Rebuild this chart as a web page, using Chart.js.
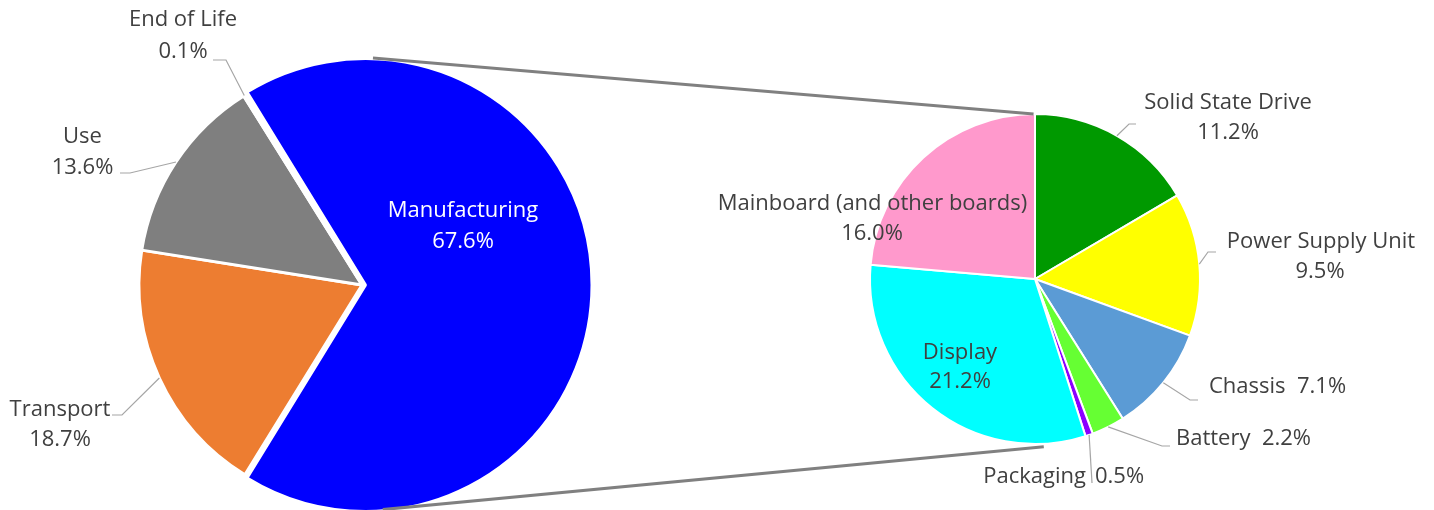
<!DOCTYPE html>
<html><head><meta charset="utf-8">
<script src="https://cdn.jsdelivr.net/npm/chart.js@4.4.1/dist/chart.umd.min.js"></script>
<style>
html,body{margin:0;padding:0;background:#fff;}
#wrap{position:relative;width:1434px;height:510px;overflow:hidden;background:#fff;}
#wrap canvas{position:absolute;left:0;top:0;}
</style></head><body>
<div id="wrap">
<canvas id="mainPie" width="1434" height="510"></canvas>
<canvas id="subPie" width="1434" height="510"></canvas>
</div>
<script>
// ---------- data ----------
const mainCategories = ['Manufacturing', 'Transport', 'Use', 'End of Life'];
const mainValues = [67.6, 18.7, 13.6, 0.1];
const mainColors = ['#0000FF', '#ED7D31', '#7F7F7F', '#FFC000'];

const subCategories = ['Solid State Drive', 'Power Supply Unit', 'Chassis', 'Battery', 'Packaging', 'Display', 'Mainboard (and other boards)'];
const subValues = [11.2, 9.5, 7.1, 2.2, 0.5, 21.2, 16.0];
const subColors = ['#009900', '#FFFF00', '#5B9BD5', '#66FF33', '#8B00FF', '#00FFFF', '#FF99CC'];

// ---------- styles / label layout (relative to pie centre) ----------
const FONT = '22px "Open Sans", sans-serif';
const TEXT = '#404040';
const LEADER = '#A6A6A6';
const pct = v => v.toFixed(1) + '%';

const mainLayout = [
  {color: '#FFFFFF', items: [{k: 'name', dx: 101, dy: -74}, {k: 'value', dx: 101, dy: -43}]},
  {items: [{k: 'name', dx: -302, dy: 125}, {k: 'value', dx: -302, dy: 155}], leader: [[-240, 130], [-250, 130]]},
  {items: [{k: 'name', dx: -279.5, dy: -148}, {k: 'value', dx: -279.5, dy: -117}], leader: [[-232, -112], [-242, -112]]},
  {items: [{k: 'name', dx: -179, dy: -265}, {k: 'value', dx: -179, dy: -233}], leader: [[-136, -225], [-149, -225]]}
];
const subLayout = [
  {items: [{k: 'name', dx: 193, dy: -176}, {k: 'value', dx: 193, dy: -146}], leader: [[94, -155], [101, -155]]},
  {items: [{k: 'name', dx: 286, dy: -37}, {k: 'value', dx: 285, dy: -7}], leader: [[173, -27], [181, -27]]},
  {items: [{k: 'both', dx: 174, dy: 108, align: 'left'}], leader: [[155, 121], [163, 121]]},
  {items: [{k: 'both', dx: 141, dy: 160, align: 'left'}], leader: [[127, 167], [135, 167]]},
  {items: [{k: 'name', dx: 51, dy: 198, align: 'right'}, {k: 'value', dx: 60, dy: 198, align: 'left'}], leader: [[57, 204]]},
  {items: [{k: 'name', dx: -75, dy: 74}, {k: 'value', dx: -75, dy: 103}]},
  {items: [{k: 'name', dx: -162.5, dy: -75}, {k: 'value', dx: -163, dy: -45}]}
];
const connectorLayout = [
  {srcAngle: -89, srcExtra: 4, dstAngle: -90.5, dstExtra: 0},
  {srcAngle: 86.5, srcExtra: 2, dstAngle: 87, dstExtra: 3}
];

function makeLabelPlugin(id, layout) {
  return {
    id,
    afterDatasetsDraw(chart) {
      const ctx = chart.ctx;
      const meta = chart.getDatasetMeta(0);
      const cats = chart.data.labels;
      const vals = chart.data.datasets[0].data;
      ctx.save();
      meta.data.forEach((arc, i) => {
        const L = layout[i];
        if (!L) return;
        const cx = arc.x, cy = arc.y;
        if (L.leader) {
          const mid = (arc.startAngle + arc.endAngle) / 2;
          const r = arc.outerRadius;
          ctx.beginPath();
          ctx.moveTo(cx + Math.cos(mid) * r, cy + Math.sin(mid) * r);
          L.leader.forEach(p => ctx.lineTo(cx + p[0], cy + p[1]));
          ctx.strokeStyle = LEADER;
          ctx.lineWidth = 1.2;
          ctx.stroke();
        }
        ctx.font = FONT;
        ctx.fillStyle = L.color || TEXT;
        ctx.textBaseline = 'middle';
        L.items.forEach(it => {
          const s = it.k === 'name' ? cats[i] : it.k === 'value' ? pct(vals[i]) : cats[i] + '  ' + pct(vals[i]);
          ctx.textAlign = it.align || 'center';
          ctx.fillText(s, cx + it.dx, cy + it.dy);
        });
      });
      ctx.restore();
    }
  };
}

const mainSum = mainValues.reduce((a, b) => a + b, 0);
const mainChart = new Chart(document.getElementById('mainPie'), {
  type: 'pie',
  data: {
    labels: mainCategories,
    datasets: [{
      data: mainValues,
      backgroundColor: mainColors,
      borderColor: '#FFFFFF',
      borderWidth: 3,
      offset: [14, 0, 0, 0],
      clip: false
    }]
  },
  options: {
    responsive: false,
    animation: false,
    events: [],
    rotation: 90 - 180 * mainValues[0] / mainSum,
    radius: 223,
    layout: {padding: {left: 139, right: 849, top: 62, bottom: 2}},
    plugins: {legend: {display: false}, tooltip: {enabled: false}}
  },
  plugins: [makeLabelPlugin('mainLabels', mainLayout)]
});

const connectorPlugin = {
  id: 'connectors',
  afterDatasetsDraw(chart) {
    const src = mainChart.getDatasetMeta(0).data[0];
    const half = (src.startAngle + src.endAngle) / 2;
    const circ = src.endAngle - src.startAngle;
    const off = (src.options && src.options.offset) || 0;
    const s = off / 4 * (2 - Math.sin(Math.min(Math.PI, circ)));
    const sx = src.x + Math.cos(half) * s, sy = src.y + Math.sin(half) * s;
    const R = src.outerRadius;
    const dst = chart.getDatasetMeta(0).data[0];
    const ctx = chart.ctx;
    ctx.save();
    ctx.strokeStyle = '#808080';
    ctx.lineWidth = 3;
    ctx.lineCap = 'butt';
    connectorLayout.forEach(c => {
      const a1 = c.srcAngle * Math.PI / 180, a2 = c.dstAngle * Math.PI / 180;
      ctx.beginPath();
      ctx.moveTo(sx + Math.cos(a1) * (R + c.srcExtra), sy + Math.sin(a1) * (R + c.srcExtra));
      ctx.lineTo(dst.x + Math.cos(a2) * (dst.outerRadius + c.dstExtra), dst.y + Math.sin(a2) * (dst.outerRadius + c.dstExtra));
      ctx.stroke();
    });
    ctx.restore();
  }
};

const subChart = new Chart(document.getElementById('subPie'), {
  type: 'pie',
  data: {
    labels: subCategories,
    datasets: [{
      data: subValues,
      backgroundColor: subColors,
      borderColor: '#FFFFFF',
      borderWidth: 2,
      clip: false
    }]
  },
  options: {
    responsive: false,
    animation: false,
    events: [],
    rotation: 0,
    radius: 165,
    layout: {padding: {left: 870, right: 234, top: 114, bottom: 66}},
    plugins: {legend: {display: false}, tooltip: {enabled: false}}
  },
  plugins: [connectorPlugin, makeLabelPlugin('subLabels', subLayout)]
});
</script>
</body></html>
